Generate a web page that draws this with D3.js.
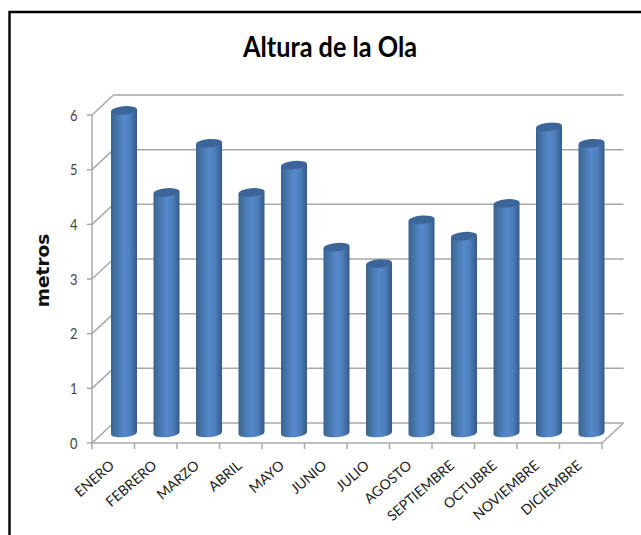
<!DOCTYPE html>
<html><head><meta charset="utf-8">
<script src="https://cdn.jsdelivr.net/npm/d3@7"></script>
<style>html,body{margin:0;padding:0;background:#fff}svg{display:block}text{font-family:Lato,"Open Sans",sans-serif}</style>
</head><body><div id="c"></div>
<script>
const categories = ["ENERO","FEBRERO","MARZO","ABRIL","MAYO","JUNIO","JULIO","AGOSTO","SEPTIEMBRE","OCTUBRE","NOVIEMBRE","DICIEMBRE"];
const values = [5.9,4.4,5.3,4.4,4.9,3.4,3.1,3.9,3.6,4.2,5.6,5.3];
const yTicks = [0,1,2,3,4,5,6];
const title = "Altura de la Ola";
const yTitle = "metros";

const W=641,H=535, grid="#a8a8a8";
const depthX=21.5, depthY=-20;
const x=d3.scaleBand().domain(categories).range([92,602]);
const y=d3.scaleLinear().domain([0,6]).range([443,115]);
const svg=d3.select("#c").append("svg").attr("width",W).attr("height",H);
const defs=svg.append("defs");
const g=defs.append("linearGradient").attr("id","cyl");
[[0,"#3a6293"],[.14,"#42709f"],[.5,"#5589cc"],[.72,"#4f80bd"],[1,"#345a8a"]]
  .forEach(s=>g.append("stop").attr("offset",s[0]).attr("stop-color",s[1]));

// frame
svg.append("path").attr("d",`M9.5,${H}V12H${W}`).attr("fill","none").attr("stroke","#000").attr("stroke-width",2.4);

const root=svg.append("g");
const line=(x1,y1,x2,y2)=>root.append("line").attr("x1",x1).attr("y1",y1).attr("x2",x2).attr("y2",y2)
  .attr("stroke",grid).attr("stroke-width",1.5);

// walls, gridlines
yTicks.forEach(t=>{
  line(92,y(t),92+depthX,y(t)+depthY);
  line(92+depthX,y(t)+depthY,602+depthX,y(t)+depthY);
  line(87,y(t),92,y(t));
});
line(92,y(0),92,y(6));
line(92,y(0),602,y(0));
line(602,y(0),602+depthX,y(0)+depthY);
x.domain().forEach(c=>line(x(c),y(0),x(c),y(0)+6));
line(602,y(0),602,y(0)+6);

// bars
const bw=26, ry=4.2, tilt=-5;
const bars=root.selectAll("g.bar").data(values).join("g").attr("class","bar")
  .attr("transform",(d,i)=>`translate(${x(categories[i])+x.bandwidth()/2+depthX/2},${depthY/2})`);
bars.append("path").attr("fill","url(#cyl)")
  .attr("d",d=>{
    const t=y(d), b=y(0), r=bw/2, dy=r*Math.tan(-tilt*Math.PI/180);
    return `M${-r},${t+dy}L${-r},${b+dy}A${r},${ry} ${tilt} 0 0 ${r},${b-dy}L${r},${t-dy}Z`;
  });
bars.append("ellipse").attr("rx",bw/2).attr("ry",ry).attr("cy",d=>y(d))
  .attr("transform",d=>`rotate(${tilt} 0 ${y(d)})`).attr("fill","#3c6699");

// labels
svg.append("g").selectAll("text").data(yTicks).join("text")
  .attr("x",70).attr("y",d=>y(d)+5.5).attr("text-anchor","start")
  .attr("font-size",15.5).attr("fill","#444")
  .attr("textLength",7.5).attr("lengthAdjust","spacingAndGlyphs").text(d=>d);
svg.append("g").selectAll("text").data(categories).join("text")
  .attr("text-anchor","end").attr("font-size",14).attr("fill","#222")
  .attr("transform",d=>`translate(${x(d)+x.bandwidth()/2+2},467) rotate(-41)`).text(d=>d);
svg.append("text").attr("x",243).attr("y",57).attr("text-anchor","start")
  .attr("font-size",28).attr("font-weight",700).attr("fill","#000")
  .attr("textLength",174).attr("lengthAdjust","spacingAndGlyphs").text(title);
svg.append("text").attr("transform","translate(49,270.5) rotate(-90)").attr("text-anchor","middle")
  .style("font-family","'DejaVu Sans'").attr("font-size",18.5).attr("font-weight",700).attr("fill","#111").text(yTitle);
</script></body></html>
